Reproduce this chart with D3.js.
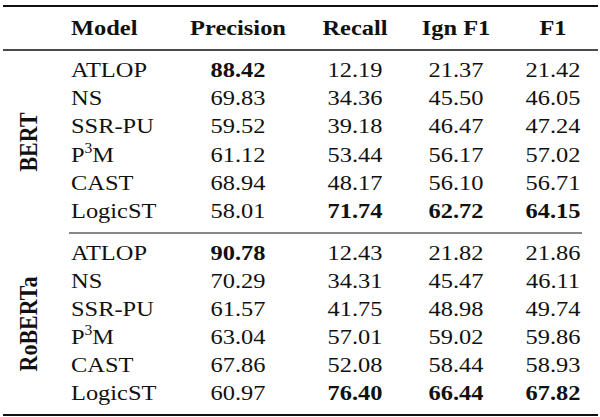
<!DOCTYPE html>
<html><head><meta charset="utf-8">
<script src="https://cdn.jsdelivr.net/npm/d3@7"></script>
<style>body{margin:0;background:#fff}svg text{font-family:'Liberation Serif','Times New Roman',Times,serif;fill:#111}</style>
</head><body><svg id="c" width="600" height="417"></svg>
<script>
const columns = ["Model","Precision","Recall","Ign F1","F1"];
const groups = ["BERT","RoBERTa"];
const models = ["ATLOP","NS","SSR-PU","P3M","CAST","LogicST"];
const bertValues = [
  [88.42,12.19,21.37,21.42],[69.83,34.36,45.50,46.05],[59.52,39.18,46.47,47.24],
  [61.12,53.44,56.17,57.02],[68.94,48.17,56.10,56.71],[58.01,71.74,62.72,64.15]];
const robertaValues = [
  [90.78,12.43,21.82,21.86],[70.29,34.31,45.47,46.11],[61.57,41.75,48.98,49.74],
  [63.04,57.01,59.02,59.86],[67.86,52.08,58.44,58.93],[60.97,76.40,66.44,67.82]];
const groupValues = [bertValues, robertaValues];

const svg = d3.select("#c");
const SX = 1.11, FS = 22, FONT = "'Liberation Serif','Times New Roman',Times,serif";
const colX = d3.scaleOrdinal().domain(columns.slice(1)).range([238,355,456,553]);
const modelX = 71;
const rowY = [d3.scalePoint().domain(models).range([77,218]),
              d3.scalePoint().domain(models).range([260,400])];
const groupY = [142,324];

function txt(x,y,anchor,bold){
  return svg.append("text").attr("transform",`translate(${x},${y}) scale(${SX},1)`)
    .attr("font-family",FONT)
    .attr("text-anchor",anchor).attr("font-size",FS).attr("font-weight",bold?"bold":"normal");
}
function modelName(t,name){
  if(name==="P3M"){t.append("tspan").text("P");t.append("tspan").attr("font-size",14).attr("dy",-9).text("3");t.append("tspan").attr("dy",9).text("M");}
  else t.text(name);
}
const line=(x1,x2,y,w)=>svg.append("line").attr("x1",x1).attr("x2",x2).attr("y1",y).attr("y2",y).attr("stroke","#111").attr("stroke-width",w);
line(3,598,6,2); line(3,598,50,1.3); line(69,582,233,1); line(3,598,415,2);
txt(modelX,35,"start",true).text(columns[0]);
columns.slice(1).forEach(c=>txt(colX(c),35,"middle",true).text(c));
groups.forEach((g,gi)=>{
  svg.append("text").attr("transform",`translate(37,${groupY[gi]}) scale(${SX},1) rotate(-90)`)
    .attr("font-family",FONT)
    .attr("text-anchor","middle").attr("font-size",FS).attr("font-weight","bold").text(g);
  const vals=groupValues[gi];
  const maxes=columns.slice(1).map((c,ci)=>d3.max(vals,r=>r[ci]));
  models.forEach((m,mi)=>{
    const y=rowY[gi](m);
    modelName(txt(modelX,y,"start",false),m);
    columns.slice(1).forEach((c,ci)=>{
      const v=vals[mi][ci];
      txt(colX(c),y,"middle",v===maxes[ci]).text(v.toFixed(2));
    });
  });
});
</script></body></html>
